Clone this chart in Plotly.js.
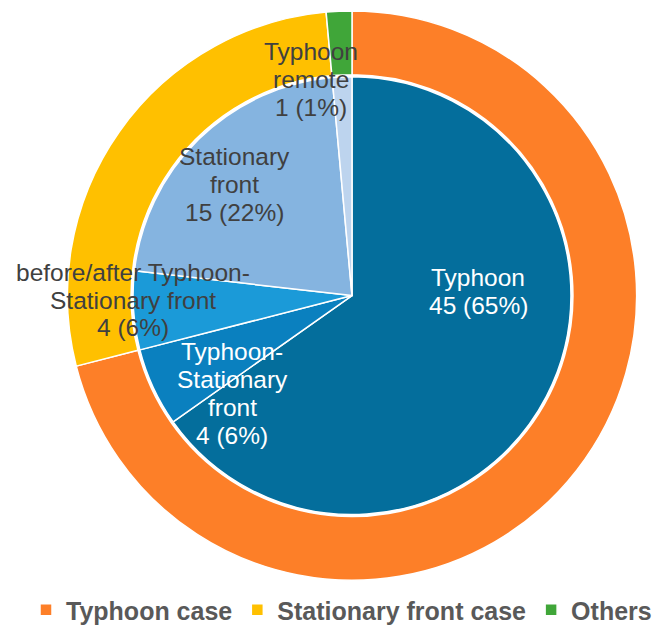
<!DOCTYPE html>
<html>
<head>
<meta charset="utf-8">
<script src="https://cdn.plot.ly/plotly-3.0.1.min.js"></script>
<style>
  html, body { margin: 0; padding: 0; background: #fff; }
  #chart { width: 665px; height: 633px; }
</style>
</head>
<body>
<div id="chart"></div>
<script>
// ---------- DATA ----------
var outerLabels = ['Typhoon case', 'Stationary front case', 'Others'];
var outerValues = [49, 19, 1];

var innerLabels = ['Typhoon', 'Typhoon-Stationary front', 'before/after Typhoon-Stationary front', 'Stationary front', 'Typhoon remote'];
var innerValues = [45, 4, 4, 15, 1];
// how each inner label is broken into lines in the chart
var innerLabelLines = [
  ['Typhoon'],
  ['Typhoon-', 'Stationary', 'front'],
  ['before/after Typhoon-', 'Stationary front'],
  ['Stationary', 'front'],
  ['Typhoon', 'remote']
];

// ---------- STYLE / LAYOUT ----------
var W = 665, H = 633;
var FONT = "'Liberation Sans', Arial, Helvetica, sans-serif";
var outerColors = ['#FD7F28', '#FFC000', '#40A639'];
var innerColors = ['#046E9C', '#0A80BF', '#1B9AD8', '#85B4E0', '#BDD4EE'];
var innerTextColors = ['#ffffff', '#ffffff', '#404040', '#404040', '#404040'];
var center = {x: 352, y: 297};
var outerR = 286, holeR = 222, innerR = 220;
// label anchor: centre x, first baseline y (pixels)
var labelPos = [[478, 287], [232, 362], [133, 282], [234, 166], [311, 60]];
var labelSize = 24.5, lineStep = 28;

function domainFor(r) {
  return {
    x: [(center.x - r) / W, (center.x + r) / W],
    y: [(H - center.y - r) / H, (H - center.y + r) / H]
  };
}

var outerTrace = {
  type: 'pie',
  labels: outerLabels,
  values: outerValues,
  sort: false,
  direction: 'clockwise',
  rotation: 0,
  hole: holeR / outerR,
  domain: domainFor(outerR),
  marker: {colors: outerColors, line: {color: '#ffffff', width: 1.5}},
  textinfo: 'none',
  hoverinfo: 'label+value',
  showlegend: true
};

var innerTrace = {
  type: 'pie',
  labels: innerLabels,
  values: innerValues,
  sort: false,
  direction: 'clockwise',
  rotation: 0,
  domain: domainFor(innerR),
  marker: {colors: innerColors, line: {color: '#ffffff', width: 1.5}},
  textinfo: 'none',
  hoverinfo: 'label+value+percent',
  showlegend: false
};

// text labels built from the data
var total = innerValues.reduce(function (a, b) { return a + b; }, 0);
var annotations = [];
innerLabels.forEach(function (lab, i) {
  var pct = Math.round(innerValues[i] / total * 100);
  var lines = innerLabelLines[i].concat([innerValues[i] + ' (' + pct + '%)']);
  lines.forEach(function (ln, k) {
    var baseline = labelPos[i][1] + k * lineStep;
    annotations.push({
      xref: 'paper', yref: 'paper',
      x: labelPos[i][0] / W,
      y: 1 - (baseline - 0.3465 * labelSize) / H,
      xanchor: 'center', yanchor: 'middle',
      text: ln, showarrow: false,
      font: {family: FONT, size: labelSize, color: innerTextColors[i]}
    });
  });
});

var layout = {
  width: W, height: H,
  margin: {l: 0, r: 0, t: 0, b: 0},
  paper_bgcolor: '#ffffff',
  plot_bgcolor: '#ffffff',
  font: {family: FONT},
  showlegend: true,
  legend: {
    orientation: 'h',
    x: 26 / W, xanchor: 'left',
    y: 20 / H, yanchor: 'middle',
    font: {family: FONT, size: 25, color: '#595959', weight: 'bold'},
    bgcolor: 'rgba(0,0,0,0)',
    itemclick: false, itemdoubleclick: false
  },
  annotations: annotations
};

Plotly.newPlot('chart', [outerTrace, innerTrace], layout, {displayModeBar: false, staticPlot: true});
</script>
</body>
</html>
